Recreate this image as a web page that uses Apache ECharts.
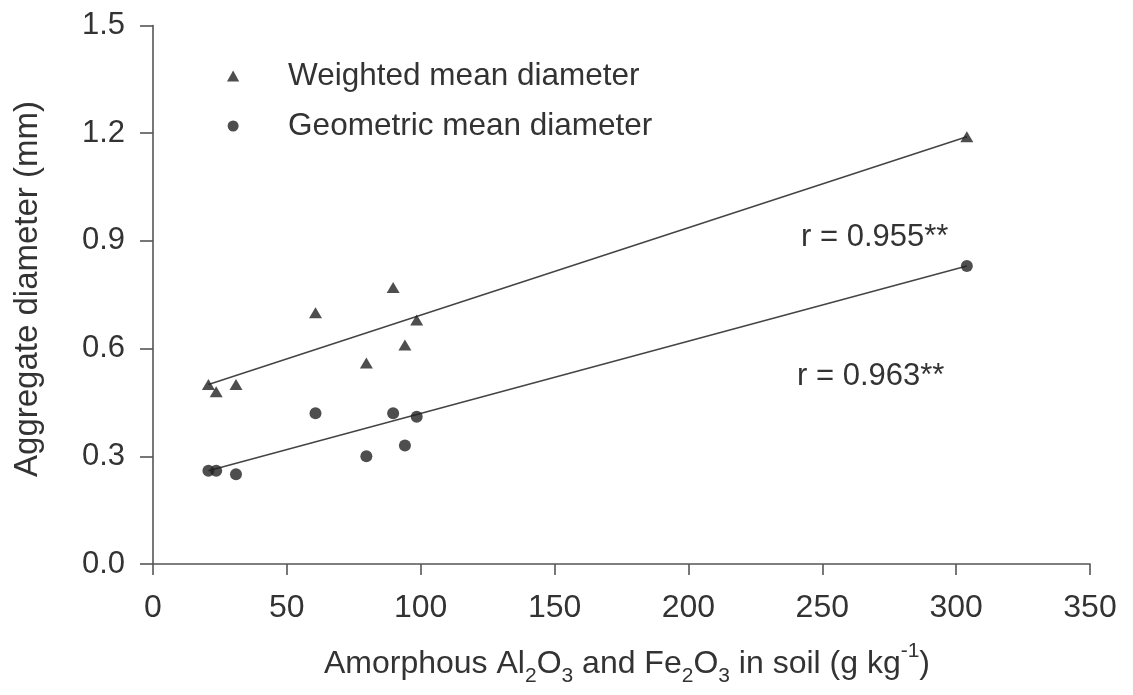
<!DOCTYPE html>
<html>
<head>
<meta charset="utf-8">
<script src="https://cdn.jsdelivr.net/npm/echarts@6/dist/echarts.min.js"></script>
<style>
  html, body { margin: 0; padding: 0; background: #ffffff; }
  #chart { width: 1133px; height: 695px; }
</style>
</head>
<body>
<div id="chart"></div>
<script>
// Amorphous Al2O3 + Fe2O3 content (g/kg) for each soil sample
const oxideContent = [20.7, 23.6, 31.0, 60.7, 79.7, 89.7, 94.1, 98.5, 304.0];
// Weighted mean diameter (mm)
const weightedMean = [0.50, 0.48, 0.50, 0.70, 0.56, 0.77, 0.61, 0.68, 1.19];
// Geometric mean diameter (mm)
const geometricMean = [0.26, 0.26, 0.25, 0.42, 0.30, 0.42, 0.33, 0.41, 0.83];

// Fitted regression line endpoints [x, y]
const weightedFit = [[20.7, 0.50], [304.0, 1.19]];
const geometricFit = [[20.7, 0.26], [304.0, 0.83]];

const weightedLabel = 'r = 0.955**';
const geometricLabel = 'r = 0.963**';

const xTicks = { min: 0, max: 350, interval: 50 };
const yTicks = { min: 0, max: 1.5, interval: 0.3 };

const FONT = '"Liberation Sans", Arial, Helvetica, sans-serif';
const TEXT = '#333333';
const AXIS = '#555555';
const MARK = '#222222';

// Triangle drawn as a path so the legend keeps its proportions in a wide icon box
const TRIANGLE_ICON = 'path://M5,0L10,9L0,9Z';

const pairs = (xs, ys) => xs.map((x, i) => [x, ys[i]]);

const chart = echarts.init(document.getElementById('chart'), null, { renderer: 'canvas' });

chart.setOption({
  backgroundColor: '#ffffff',
  animation: false,
  grid: { left: 153, right: 43, top: 25.5, bottom: 131, containLabel: false },
  legend: {
    orient: 'vertical',
    left: 222,
    top: 55,
    itemWidth: 100,
    itemHeight: 11,
    itemGap: 18,
    symbolKeepAspect: true,
    data: [
      { name: 'Weighted mean diameter', icon: TRIANGLE_ICON },
      { name: 'Geometric mean diameter', icon: 'circle' }
    ],
    textStyle: { fontFamily: FONT, fontSize: 31.5, color: TEXT },
    selectedMode: false
  },
  xAxis: {
    type: 'value',
    min: xTicks.min, max: xTicks.max, interval: xTicks.interval,
    axisLine: { show: true, onZero: false, lineStyle: { color: AXIS, width: 1.6 } },
    axisTick: { show: true, inside: false, length: 11, lineStyle: { color: AXIS, width: 1.6 } },
    axisLabel: { margin: 28, fontFamily: FONT, fontSize: 32, color: TEXT },
    splitLine: { show: false }
  },
  yAxis: {
    type: 'value',
    min: yTicks.min, max: yTicks.max, interval: yTicks.interval,
    axisLine: { show: true, onZero: false, lineStyle: { color: AXIS, width: 1.6 } },
    axisTick: { show: true, inside: false, length: 13, lineStyle: { color: AXIS, width: 1.6 } },
    axisLabel: {
      margin: 28, fontFamily: FONT, fontSize: 31, color: TEXT,
      formatter: v => v.toFixed(1)
    },
    splitLine: { show: false }
  },
  series: [
    {
      name: 'Weighted mean diameter',
      type: 'scatter',
      symbol: 'triangle',
      symbolSize: [13, 11],
      itemStyle: { color: MARK },
      data: pairs(oxideContent, weightedMean),
      z: 3
    },
    {
      name: 'Geometric mean diameter',
      type: 'scatter',
      symbol: 'circle',
      symbolSize: 12,
      itemStyle: { color: MARK },
      data: pairs(oxideContent, geometricMean),
      z: 3
    },
    {
      name: 'weighted fit',
      type: 'line',
      data: weightedFit,
      symbol: 'none',
      lineStyle: { color: '#444444', width: 1.5 },
      z: 2
    },
    {
      name: 'geometric fit',
      type: 'line',
      data: geometricFit,
      symbol: 'none',
      lineStyle: { color: '#444444', width: 1.5 },
      z: 2
    }
  ],
  graphic: [
    {
      type: 'text',
      x: 28, y: 289,
      rotation: Math.PI / 2,
      style: {
        text: 'Aggregate diameter (mm)',
        fontFamily: FONT, fontSize: 33, fill: TEXT,
        align: 'center', verticalAlign: 'middle'
      }
    },
    {
      type: 'text',
      x: 627, y: 664,
      style: {
        text: 'Amorphous Al{sub|2}O{sub|3} and Fe{sub|2}O{sub|3} in soil (g kg{sup|-1})',
        fontFamily: FONT, fontSize: 32, fill: TEXT, lineHeight: 46,
        align: 'center', verticalAlign: 'middle',
        rich: {
          sub: { fontFamily: FONT, fontSize: 21, fill: TEXT, lineHeight: 21, verticalAlign: 'bottom' },
          sup: { fontFamily: FONT, fontSize: 21, fill: TEXT, lineHeight: 21, verticalAlign: 'top' }
        }
      }
    },
    {
      type: 'text',
      x: 801, y: 237,
      style: {
        text: weightedLabel,
        fontFamily: FONT, fontSize: 31, fill: TEXT,
        align: 'left', verticalAlign: 'middle'
      }
    },
    {
      type: 'text',
      x: 797, y: 376,
      style: {
        text: geometricLabel,
        fontFamily: FONT, fontSize: 31, fill: TEXT,
        align: 'left', verticalAlign: 'middle'
      }
    }
  ]
});
</script>
</body>
</html>
